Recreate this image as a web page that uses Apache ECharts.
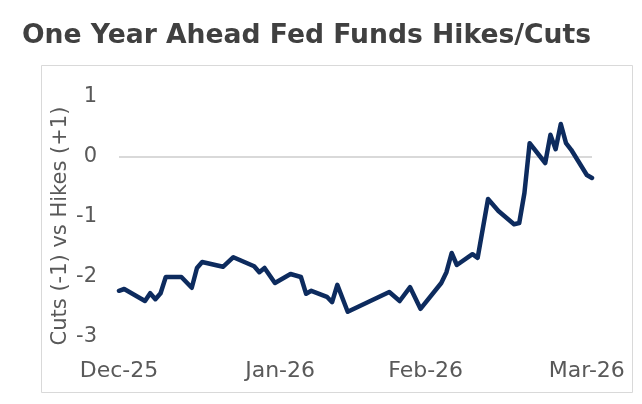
<!DOCTYPE html>
<html>
<head>
<meta charset="utf-8">
<script src="https://cdn.jsdelivr.net/npm/echarts@6/dist/echarts.min.js"></script>
<style>
  html, body { margin: 0; padding: 0; background: #fff; }
  #chart { width: 642px; height: 404px; }
</style>
</head>
<body>
<div id="chart"></div>
<script>
// 数据：x 为距 12 月 1 日的天数，y 为加息(+1)/降息(-1) 次数
const days = [0, 1, 5, 6, 7, 8, 9, 12, 14, 15, 16, 20, 22, 26, 27, 28, 30, 33, 35, 36,
    37, 40, 41, 42, 44, 52, 54, 56, 58, 62, 63, 64, 65, 68, 69, 71, 73, 76, 77, 78,
    79, 82, 83, 84, 85, 86, 87, 90, 91];
const hikesCuts = [-2.23, -2.2, -2.4, -2.27, -2.37, -2.27, -2.0, -2.0, -2.18, -1.85,
    -1.75, -1.83, -1.67, -1.82, -1.92, -1.85, -2.1, -1.95, -2.0, -2.28,
    -2.23, -2.33, -2.42, -2.13, -2.58, -2.25, -2.4, -2.17, -2.53, -2.1,
    -1.92, -1.6, -1.8, -1.62, -1.68, -0.7, -0.9, -1.12, -1.1, -0.6,
    0.23, -0.1, 0.37, 0.13, 0.55, 0.23, 0.12, -0.3, -0.35];
const tickDays = [0, 31, 59, 90];
const tickLabels = ['Dec-25', 'Jan-26', 'Feb-26', 'Mar-26'];

const colors = {
    line: '#0D2B5E',
    text: '#595959',
    title: '#404040',
    grid: '#D9D9D9'
};
const font = 'DejaVu Sans';

var chart = echarts.init(document.getElementById('chart'));

chart.setOption({
    backgroundColor: '#fff',
    animation: false,
    title: {
        text: 'One Year Ahead Fed Funds Hikes/Cuts',
        left: 17,
        top: 18,
        textStyle: {
            color: colors.title,
            fontFamily: font,
            fontWeight: 'bold',
            fontSize: 26.6
        }
    },
    graphic: [{
        type: 'rect',
        shape: { x: 41.5, y: 65.5, width: 591, height: 327 },
        style: { fill: 'none', stroke: colors.grid, lineWidth: 1 },
        z: -1
    }],
    grid: { left: 119, right: 50, top: 97, bottom: 67 },
    xAxis: {
        type: 'value',
        min: 0,
        max: 91,
        axisLine: { show: false },
        axisTick: { show: false },
        splitLine: { show: false },
        axisLabel: {
            customValues: tickDays,
            margin: 23,
            color: colors.text,
            fontFamily: font,
            fontSize: 22,
            formatter: function (v) {
                const i = tickDays.indexOf(v);
                return i >= 0 ? tickLabels[i] : '';
            }
        }
    },
    yAxis: {
        type: 'value',
        min: -3,
        max: 1,
        interval: 1,
        name: 'Cuts (-1) vs Hikes (+1)',
        nameLocation: 'middle',
        nameRotate: 90,
        nameGap: 48,
        nameMoveOverlap: false,
        nameTextStyle: {
            color: colors.text,
            fontFamily: font,
            fontSize: 21,
            padding: [0, 18, 0, 0]
        },
        axisLine: { show: false },
        axisTick: { show: false },
        splitLine: { show: false },
        axisLabel: {
            margin: 22,
            color: colors.text,
            fontFamily: font,
            fontSize: 21
        }
    },
    series: [{
        type: 'line',
        data: days.map((d, i) => [d, hikesCuts[i]]),
        symbol: 'none',
        lineStyle: { color: colors.line, width: 4.5, join: 'round', cap: 'round' },
        markLine: {
            silent: true,
            symbol: 'none',
            label: { show: false },
            lineStyle: { color: colors.grid, width: 2, type: 'solid' },
            data: [{ yAxis: 0 }],
            z: 1
        },
        z: 3
    }]
});
</script>
</body>
</html>
